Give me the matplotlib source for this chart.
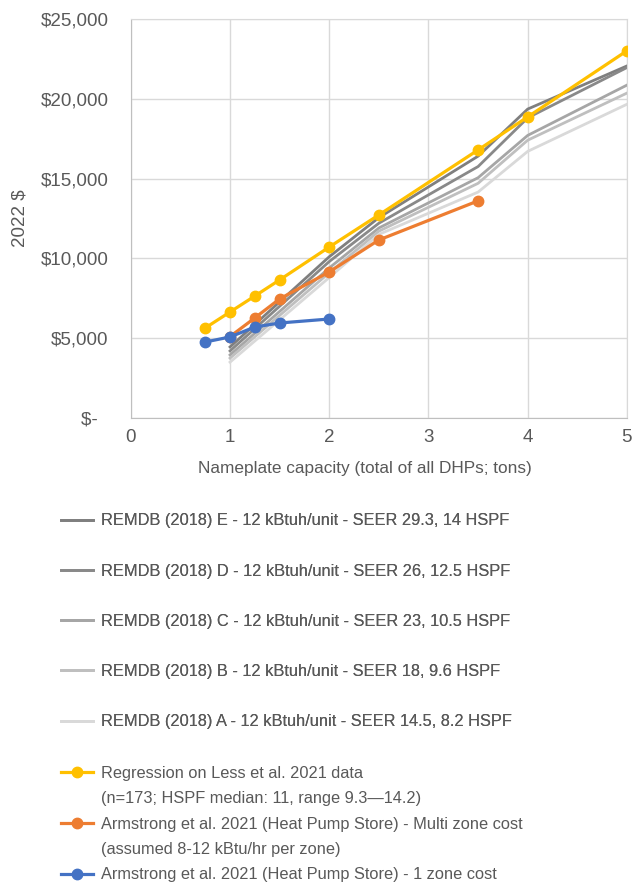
import numpy as np
import matplotlib
matplotlib.use('Agg')
import matplotlib.pyplot as plt
from matplotlib.lines import Line2D
from matplotlib.ticker import FuncFormatter

plt.rcParams['font.family'] = ['Liberation Sans', 'DejaVu Sans']

# Dane
x_remdb = [1, 2, 2.5, 3.5, 4, 5]
remdb_e = [4450, 10100, 12550, 16400, 19350, 22050]
remdb_d = [4200, 9800, 12200, 15750, 18800, 21950]
remdb_c = [3950, 9400, 11900, 15050, 17700, 20850]
remdb_b = [3750, 9100, 11700, 14700, 17400, 20350]
remdb_a = [3500, 8800, 11500, 14150, 16700, 19650]

x_regr = [0.75, 1, 1.25, 1.5, 2, 2.5, 3.5, 4, 5]
regr = [5640, 6640, 7640, 8650, 10710, 12720, 16790, 18860, 23000]

x_multi = [1, 1.25, 1.5, 2, 2.5, 3.5]
multi = [5100, 6270, 7460, 9150, 11150, 13600]

x_one = [0.75, 1, 1.25, 1.5, 2]
one = [4760, 5075, 5700, 5950, 6200]

etykiety_remdb = [
    'REMDB (2018) E - 12 kBtuh/unit - SEER 29.3, 14 HSPF',
    'REMDB (2018) D - 12 kBtuh/unit - SEER 26, 12.5 HSPF',
    'REMDB (2018) C - 12 kBtuh/unit - SEER 23, 10.5 HSPF',
    'REMDB (2018) B - 12 kBtuh/unit - SEER 18, 9.6 HSPF',
    'REMDB (2018) A - 12 kBtuh/unit - SEER 14.5, 8.2 HSPF',
]
kolory_remdb = ['#7f7f7f', '#898989', '#a6a6a6', '#bfbfbf', '#d9d9d9']

tekst = '#595959'
siatka = '#d9d9d9'

fig = plt.figure(figsize=(6.32, 8.85), dpi=100)
ax = fig.add_axes([0.207, 0.5277, 0.785, 0.451])

linie_remdb = []
for y, kol, et in zip([remdb_e, remdb_d, remdb_c, remdb_b, remdb_a], kolory_remdb, etykiety_remdb):
    l, = ax.plot(x_remdb, y, color=kol, lw=2, label=et, zorder=2)
    linie_remdb.append(l)

l_regr, = ax.plot(x_regr, regr, color='#ffc000', lw=2.3, marker='o', ms=7.5, zorder=3)
l_multi, = ax.plot(x_multi, multi, color='#ed7d31', lw=2.3, marker='o', ms=7.5, zorder=4)
l_one, = ax.plot(x_one, one, color='#4472c4', lw=2.3, marker='o', ms=7.5, zorder=5)

ax.set_xlim(0, 5)
ax.set_ylim(0, 25000)
ax.set_xticks(range(0, 6))
ax.set_yticks(range(0, 25001, 5000))
ax.yaxis.set_major_formatter(FuncFormatter(lambda v, p: '$-  ' if v == 0 else '${:,.0f}'.format(v)))
ax.grid(True, color=siatka, lw=1)
ax.set_axisbelow(True)
for s in ax.spines.values():
    s.set_color(siatka)
ax.spines['left'].set_color('#bfbfbf')
ax.spines['bottom'].set_color('#bfbfbf')
ax.tick_params(length=0, labelsize=13.5, colors=tekst)
ax.tick_params(axis='y', pad=16)
ax.tick_params(axis='x', pad=8)
ax.set_xlabel('Nameplate capacity (total of all DHPs; tons)', fontsize=12.4, color=tekst)
ax.xaxis.set_label_coords(0.472, -0.108)
ax.set_ylabel('2022 $', fontsize=13.5, color=tekst)
ax.yaxis.set_label_coords(-0.207, 0.5)

# Legenda - serie REMDB
leg1 = fig.legend(handles=linie_remdb, loc='upper left', bbox_to_anchor=(0.097, 0.42),
                  frameon=False, fontsize=11.8, labelcolor=tekst, labelspacing=2.15,
                  handlelength=1.95, handletextpad=0.48, borderaxespad=0, borderpad=0)

# Legenda - serie kolorowe (druga linia etykiety jako osobny wpis)
pusty = Line2D([], [], color='none')
leg2 = fig.legend(handles=[l_regr, pusty, l_multi, pusty, l_one],
                  labels=['Regression on Less et al. 2021 data',
                          '(n=173; HSPF median: 11, range 9.3\u201414.2)',
                          'Armstrong et al. 2021 (Heat Pump Store) - Multi zone cost',
                          '(assumed 8-12 kBtu/hr per zone)',
                          'Armstrong et al. 2021 (Heat Pump Store) - 1 zone cost'],
                  loc='upper left', bbox_to_anchor=(0.097, 0.135),
                  frameon=False, fontsize=11.8, labelcolor=tekst, labelspacing=0.64,
                  handlelength=1.95, handletextpad=0.48, borderaxespad=0, borderpad=0)
fig.add_artist(leg1)

fig.savefig('out.png', dpi=100)
